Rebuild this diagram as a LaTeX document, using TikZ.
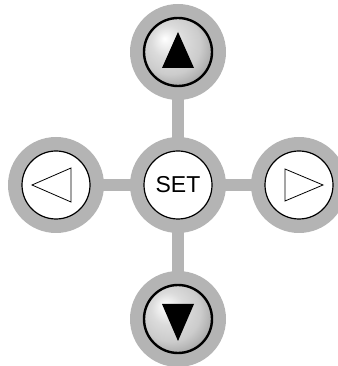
\documentclass[tikz,border=0pt]{standalone}
\usepackage{fontspec}
\setmainfont{Liberation Sans}
\usetikzlibrary{positioning}
\definecolor{padgray}{HTML}{B4B4B4}
\pgfdeclareradialshading{keyshade}{\pgfpoint{-10bp}{10bp}}{%
  color(0bp)=(white); color(5bp)=(white!94!black); color(12bp)=(white!86!black);
  color(22bp)=(white!80!black); color(28bp)=(white!70!black);
  color(34bp)=(white!57!black); color(50bp)=(white!50!black)}
\tikzset{
  ring/.style={circle,fill=padgray,minimum size=96pt,inner sep=0pt},
  keyflat/.style={circle,draw=black,line width=1.2pt,fill=white,minimum size=68pt,
    inner sep=0pt,font=\fontsize{23}{23}\selectfont},
  keyball/.style={keyflat,line width=2.4pt,shading=keyshade},
  stem/.style={padgray,line width=12pt,shorten <=-1pt,shorten >=-1pt},
  tri/.style={draw=black,line width=0.8pt,line join=miter},
}

\begin{document}
\begin{tikzpicture}[x=1pt,y=1pt,on grid]
\useasboundingbox (0,0) rectangle (337,366);
\node[ring] (rset) at (178,181) {};
\node[ring,left=122pt of rset] (rleft) {};
\node[ring,right=121pt of rset] (rright) {};
\node[ring,above=133pt of rset] (rup) {};
\node[ring,below=134pt of rset] (rdown) {};
\draw[stem] (rup)--(rset); \draw[stem] (rset)--(rdown);
\draw[stem] (rleft)--(rset); \draw[stem] (rset)--(rright);
\node[keyball] (kup) at (rup) {};
\node[keyball] (kdown) at (rdown) {};
\node[keyflat] (kleft) at (rleft) {};
\node[keyflat] (kright) at (rright) {};
\node[keyflat] (kset) at (rset) {SET};
\fill ([yshift=20pt]kup.center) -- ++(-16,-36) -- ++(32,0) -- cycle;
\fill ([yshift=-22pt]kdown.center) -- ++(-16,37) -- ++(32,0) -- cycle;
\draw[tri] ([xshift=-24pt]kleft.center) -- ++(39,17) -- ++(0,-34) -- cycle;
\draw[tri] ([xshift=24pt]kright.center) -- ++(-38,16) -- ++(0,-32) -- cycle;
\end{tikzpicture}
\end{document}
